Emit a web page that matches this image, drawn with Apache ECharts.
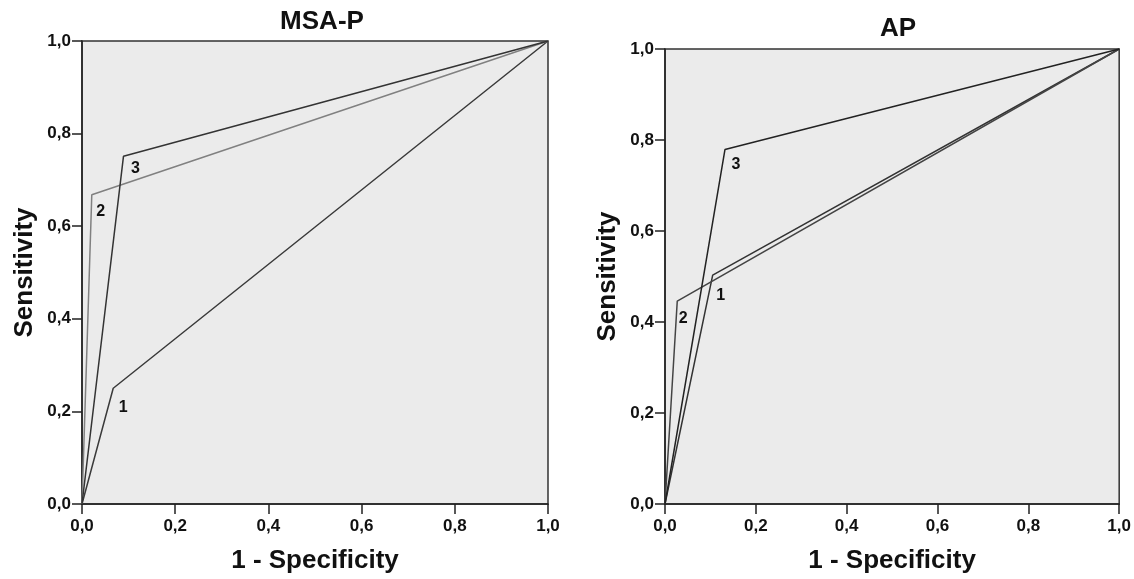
<!DOCTYPE html>
<head>
    <meta charset="utf-8">
    <title>ROC MSA-P / AP</title>
</head>
<body style="margin:0">
    <div id="main" style="width:1134px;height:579px"></div>
    <script src="https://cdn.jsdelivr.net/npm/echarts@6/dist/echarts.min.js"></script>
    <script type="text/javascript">
var myChart = echarts.init(document.getElementById('main'));

// ROC points [1 - specificity, sensitivity]
var msaCurve1 = [[0, 0], [0.067, 0.25], [1, 1]];
var msaCurve2 = [[0, 0], [0.021, 0.668], [1, 1]];
var msaCurve3 = [[0, 0], [0.089, 0.751], [1, 1]];

var apCurve1 = [[0, 0], [0.105, 0.503], [1, 1]];
var apCurve2 = [[0, 0], [0.027, 0.446], [1, 1]];
var apCurve3 = [[0, 0], [0.132, 0.779], [1, 1]];

var curveNames = ['1', '2', '3'];
var panelTitles = ['MSA-P', 'AP'];

var font = 'Liberation Sans, Arial, sans-serif';

function fmt(v) {
    return v.toFixed(1).replace('.', ',');
}

function makeSeries(data, name, idx, color, offset) {
    return {
        type: 'line',
        name: name,
        xAxisIndex: idx,
        yAxisIndex: idx,
        symbol: 'circle',
        symbolSize: 0.01,
        itemStyle: { color: color },
        animation: false,
        lineStyle: { color: color, width: 1.5 },
        data: data.map(function (p, i) {
            if (i !== 1) return p;
            return {
                value: p,
                label: {
                    show: true,
                    formatter: name,
                    position: 'inside',
                    offset: offset,
                    color: '#111',
                    fontWeight: 'bold',
                    fontSize: 16,
                    fontFamily: font
                }
            };
        })
    };
}

function xAxis(idx) {
    return {
        type: 'value', gridIndex: idx, min: 0, max: 1, interval: 0.2,
        name: '1 - Specificity', nameLocation: 'middle', nameGap: 44,
        nameTextStyle: { fontSize: 26, fontWeight: 'bold', color: '#111', fontFamily: font },
        axisLine: { lineStyle: { color: '#222', width: 1.5 } },
        axisTick: { length: 10, lineStyle: { color: '#222', width: 1.5 } },
        axisLabel: { formatter: fmt, fontSize: 17, fontWeight: 'bold', color: '#111', fontFamily: font, margin: 14 },
        splitLine: { show: false }
    };
}

function yAxis(idx) {
    return {
        type: 'value', gridIndex: idx, min: 0, max: 1, interval: 0.2,
        name: 'Sensitivity', nameLocation: 'middle', nameGap: 44,
        nameTextStyle: { fontSize: 26, fontWeight: 'bold', color: '#111', fontFamily: font },
        axisLine: { lineStyle: { color: '#222', width: 1.5 } },
        axisTick: { length: 10, lineStyle: { color: '#222', width: 1.5 } },
        axisLabel: { formatter: fmt, fontSize: 17, fontWeight: 'bold', color: '#111', fontFamily: font, margin: 11 },
        splitLine: { show: false }
    };
}

myChart.setOption({
    title: [
        { text: panelTitles[0], left: 317, top: 4, textAlign: 'center',
          textStyle: { fontSize: 26, fontWeight: 'bold', color: '#111', fontFamily: font } },
        { text: panelTitles[1], left: 893, top: 11, textAlign: 'center',
          textStyle: { fontSize: 26, fontWeight: 'bold', color: '#111', fontFamily: font } }
    ],
    grid: [
        { left: 82, top: 41, width: 466, height: 467, show: true,
          backgroundColor: '#ebebeb', borderColor: '#333', borderWidth: 1.5 },
        { left: 665, top: 49, width: 456, height: 458, show: true,
          backgroundColor: '#ebebeb', borderColor: '#333', borderWidth: 1.5 }
    ],
    xAxis: [xAxis(0), xAxis(1)],
    yAxis: [yAxis(0), yAxis(1)],
    series: [
        makeSeries(msaCurve1, curveNames[0], 0, '#3a3a3a', [10, 19]),
        makeSeries(msaCurve2, curveNames[1], 0, '#808080', [9, 17]),
        makeSeries(msaCurve3, curveNames[2], 0, '#333333', [12, 12]),
        makeSeries(apCurve1, curveNames[0], 1, '#333333', [8, 20]),
        makeSeries(apCurve2, curveNames[1], 1, '#444444', [6, 18]),
        makeSeries(apCurve3, curveNames[2], 1, '#222222', [11, 15])
    ]
});
    </script>
</body>
